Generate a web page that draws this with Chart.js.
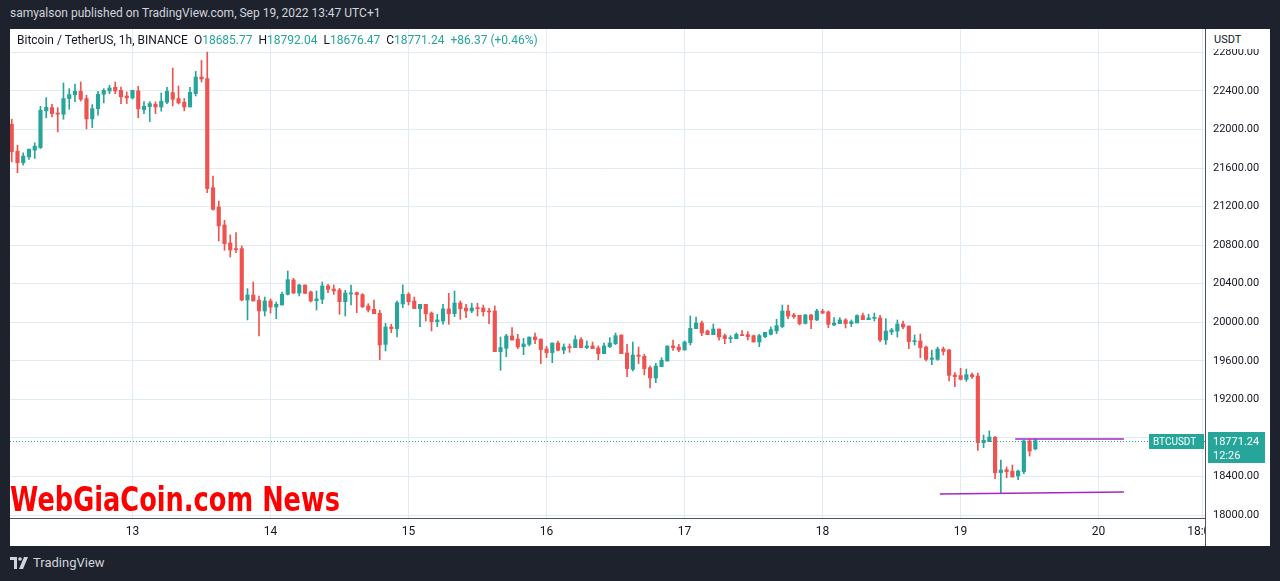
<!DOCTYPE html>
<html>
<head>
<meta charset="utf-8">
<script src="https://cdn.jsdelivr.net/npm/chart.js@4/dist/chart.umd.min.js"></script>
<style>
  html, body { margin: 0; padding: 0; width: 1280px; height: 581px; overflow: hidden; background: #1e222d; font-family: Roboto, "Liberation Sans", sans-serif; }
  .abs { position: absolute; }
  #top { left: 10px; top: 6px; color: #d1d4dc; font-size: 12px; white-space: nowrap; }
  #panel { left: 10px; top: 29px; width: 1260px; height: 517px; background: #fff; }
  #legend { left: 17px; top: 33px; font-size: 12px; color: #131722; white-space: nowrap; }
  #legend .v { color: #26a69a; margin-right: 6px; }
  #usdt { left: 1206px; top: 30px; width: 64px; height: 19px; background: #fff; font-size: 11px; color: #131722; padding-left: 8px; box-sizing: border-box; line-height: 20px; }
  #sep { left: 1205px; top: 29px; width: 1px; height: 517px; background: #50535e; }
  #cover { left: 1206px; top: 519px; width: 64px; height: 27px; background: #fff; }
  #mark { left: 10px; top: 483px; font-family: "DejaVu Sans", sans-serif; font-weight: bold; font-size: 33px; line-height: 33px; color: #ff0000; white-space: nowrap; transform-origin: 0 0; }
  #foot { left: 33px; top: 555px; color: #d1d4dc; font-size: 13px; }
  #logo { left: 10px; top: 557px; }
</style>
</head>
<body>
<div id="top" class="abs">samyalson published on TradingView.com, Sep 19, 2022 13:47 UTC+1</div>
<div id="panel" class="abs"><canvas id="chart"></canvas></div>
<div id="legend" class="abs">Bitcoin / TetherUS, 1h, BINANCE&nbsp;&nbsp;O<span class="v">18685.77</span>H<span class="v">18792.04</span>L<span class="v">18676.47</span>C<span class="v">18771.24</span><span class="v">+86.37 (+0.46%)</span></div>
<div id="mark" class="abs">WebGiaCoin.com News</div>
<div id="usdt" class="abs">USDT</div>
<div id="cover" class="abs"></div>
<div id="sep" class="abs"></div>
<svg id="logo" class="abs" width="20" height="12" viewBox="0 0 20 12">
  <path d="M0 0h7v12H4V3H0z" fill="#d1d4dc"/>
  <circle cx="10" cy="2" r="1.8" fill="#d1d4dc"/>
  <path d="M14 0h4l-5 12H9z" fill="#d1d4dc"/>
</svg>
<div id="foot" class="abs">TradingView</div>
<script>
// BTC/USDT 1h candles, Sep 12 03:00 -> Sep 19 13:00
const opens = [
  22055, 21776, 21655, 21716, 21786, 21813, 22193, 22227, 22172, 22159, 22321, 22362, 22397, 22321, 22110,
  22217, 22366, 22400, 22438, 22407, 22348, 22328, 22400, 22207, 22238, 22262, 22234, 22283, 22383, 22321,
  22283, 22234, 22372, 22545, 22528, 21397, 21196, 21009, 20823, 20764, 20764, 20231, 20283, 20228, 20117,
  20221, 20158, 20179, 20290, 20439, 20304, 20387, 20314, 20224, 20238, 20377, 20345, 20335, 20214, 20294,
  20307, 20287, 20169, 20134, 20093, 19771, 19951, 19934, 20190, 20290, 20221, 20141, 20186, 20096, 20006,
  20013, 20138, 20089, 20200, 20148, 20117, 20152, 20148, 20117, 20117, 19695, 19730, 19858, 19826, 19747,
  19771, 19847, 19826, 19723, 19685, 19785, 19712, 19747, 19737, 19820, 19737, 19754, 19733, 19674, 19747,
  19778, 19868, 19681, 19512, 19660, 19647, 19529, 19422, 19540, 19598, 19754, 19743, 19712, 19788, 19934,
  19992, 19910, 19871, 19930, 19861, 19830, 19830, 19871, 19871, 19861, 19795, 19851, 19875, 19910, 19955,
  20117, 20075, 20072, 19989, 20075, 20024, 20114, 20107, 19972, 19986, 20024, 19986, 19993, 20069, 20027,
  20041, 20045, 19816, 19899, 19909, 19982, 19961, 19799, 19806, 19743, 19615, 19615, 19723, 19712, 19453,
  19446, 19408, 19456, 19442, 18751, 18761, 18806, 18439, 18470, 18456, 18405, 18450, 18768, 18685.77
];
const highs = [
  22107, 21838, 21758, 21796, 21862, 22241, 22331, 22262, 22227, 22483, 22424, 22472, 22493, 22355, 22259,
  22397, 22424, 22459, 22493, 22441, 22390, 22407, 22448, 22290, 22290, 22286, 22379, 22438, 22638, 22452,
  22321, 22438, 22603, 22717, 22803, 21518, 21258, 21058, 20906, 20930, 20792, 20349, 20418, 20273, 20262,
  20242, 20210, 20314, 20532, 20456, 20394, 20387, 20325, 20325, 20418, 20394, 20387, 20352, 20332, 20387,
  20314, 20297, 20193, 20231, 20124, 19989, 19979, 20221, 20387, 20307, 20262, 20186, 20186, 20107, 20083,
  20186, 20300, 20325, 20221, 20186, 20197, 20197, 20179, 20145, 20169, 19847, 19875, 19944, 19875, 19833,
  19847, 19889, 19826, 19750, 19785, 19806, 19775, 19775, 19861, 19840, 19806, 19795, 19754, 19785, 19840,
  19889, 19868, 19771, 19795, 19743, 19667, 19546, 19574, 19633, 19754, 19816, 19771, 19806, 20065, 20055,
  20013, 19920, 19982, 19930, 19878, 19861, 19889, 19913, 19903, 19868, 19875, 19896, 19951, 20031, 20179,
  20179, 20093, 20072, 20082, 20082, 20134, 20134, 20117, 20048, 20048, 20037, 20024, 20076, 20096, 20083,
  20096, 20072, 20037, 19937, 20024, 20013, 19961, 19868, 19878, 19754, 19712, 19743, 19743, 19719, 19477,
  19522, 19515, 19474, 19474, 18830, 18872, 18816, 18571, 18498, 18519, 18467, 18775, 18782, 18792.04
];
const lows = [
  21665, 21551, 21631, 21689, 21700, 21803, 22121, 22131, 21975, 22107, 22210, 22290, 22296, 22007, 22020,
  22148, 22276, 22372, 22372, 22269, 22269, 22317, 22121, 22165, 22082, 22165, 22190, 22269, 22245, 22265,
  22193, 22234, 22348, 22493, 21345, 21162, 20843, 20747, 20677, 20722, 20221, 20024, 20221, 19858, 20065,
  20096, 20037, 20179, 20283, 20297, 20273, 20297, 20210, 20127, 20193, 20307, 20290, 20083, 20065, 20180,
  20100, 20152, 20107, 20089, 19612, 19702, 19892, 19847, 20152, 20179, 20141, 19954, 20013, 19910, 19954,
  19979, 19979, 20058, 20031, 20048, 20100, 20065, 20065, 19986, 19695, 19501, 19643, 19816, 19726, 19664,
  19754, 19778, 19571, 19633, 19581, 19702, 19674, 19688, 19737, 19737, 19726, 19726, 19609, 19674, 19737,
  19768, 19674, 19436, 19495, 19571, 19453, 19318, 19373, 19540, 19598, 19709, 19695, 19712, 19764, 19934,
  19861, 19871, 19871, 19813, 19778, 19788, 19830, 19861, 19816, 19795, 19747, 19840, 19868, 19882, 19944,
  20037, 20041, 19972, 19982, 19934, 20017, 20089, 19944, 19965, 19986, 19941, 19955, 19993, 20027, 20027,
  20013, 19799, 19771, 19871, 19847, 19934, 19726, 19764, 19633, 19598, 19560, 19605, 19660, 19391, 19332,
  19401, 19387, 19418, 18671, 18699, 18761, 18377, 18221, 18387, 18394, 18367, 18429, 18612, 18676.47
];
const closes = [
  21769, 21655, 21724, 21796, 21827, 22200, 22231, 22165, 22159, 22321, 22362, 22397, 22314, 22110, 22217,
  22366, 22407, 22431, 22400, 22338, 22328, 22407, 22214, 22241, 22269, 22234, 22293, 22397, 22314, 22276,
  22234, 22386, 22545, 22524, 21387, 21172, 20999, 20816, 20750, 20754, 20231, 20283, 20221, 20117, 20221,
  20158, 20186, 20290, 20442, 20304, 20387, 20300, 20221, 20242, 20377, 20342, 20325, 20214, 20304, 20304,
  20287, 20162, 20127, 20089, 19764, 19951, 19934, 20203, 20290, 20214, 20141, 20186, 20089, 20006, 20024,
  20138, 20089, 20200, 20141, 20117, 20148, 20141, 20110, 20107, 19695, 19737, 19858, 19816, 19743, 19775,
  19847, 19820, 19716, 19685, 19785, 19709, 19743, 19737, 19820, 19737, 19754, 19726, 19674, 19754, 19785,
  19861, 19674, 19519, 19660, 19647, 19519, 19422, 19546, 19605, 19754, 19737, 19712, 19795, 19937, 19992,
  19889, 19871, 19930, 19847, 19830, 19840, 19875, 19861, 19851, 19795, 19861, 19896, 19923, 19965, 20117,
  20065, 20058, 19986, 20075, 20024, 20117, 20096, 19979, 19992, 20024, 19986, 20006, 20069, 20027, 20045,
  20051, 19816, 19909, 19920, 19982, 19951, 19799, 19806, 19737, 19615, 19629, 19723, 19698, 19449, 19436,
  19408, 19456, 19436, 18751, 18775, 18810, 18439, 18467, 18450, 18394, 18456, 18768, 18664, 18771.24
];

// x axis: hour index from Sep 12 03:00
const dayTicks = [21, 45, 69, 93, 117, 141, 165, 189, 207];
const dayLabels = ['13', '14', '15', '16', '17', '18', '19', '20', '18:00'];
const priceTicks = [18000, 18400, 18800, 19200, 19600, 20000, 20400, 20800, 21200, 21600, 22000, 22400, 22800];

// user drawn lines
const resistanceLine = [{ x: 174.5, y: 18789 }, { x: 193.4, y: 18789 }];
const supportLine = [{ x: 161.4, y: 18218 }, { x: 193.4, y: 18239 }];

const lastPrice = 18771.24;
const lastPriceText = '18771.24';
const countdown = '12:26';
const symbol = 'BTCUSDT';

const UP = '#26a69a';
const DOWN = '#ef5350';
const candleColor = ctx => closes[ctx.dataIndex] >= opens[ctx.dataIndex] ? UP : DOWN;

const wicks = highs.map((h, i) => ({ x: i, y: [lows[i], h] }));
const bodies = opens.map((o, i) => ({ x: i, y: [o, closes[i]] }));

const priceLine = {
  id: 'priceLine',
  afterDatasetsDraw(chart) {
    const { ctx, chartArea } = chart;
    const y = Math.round(chart.scales.y.getPixelForValue(lastPrice)) + 0.5;
    ctx.save();
    ctx.strokeStyle = UP;
    ctx.lineWidth = 1;
    ctx.setLineDash([1, 2]);
    ctx.beginPath();
    ctx.moveTo(chartArea.left, y);
    ctx.lineTo(chartArea.right, y);
    ctx.stroke();
    ctx.restore();
  },
  afterDraw(chart) {
    const { ctx, chartArea } = chart;
    const y = Math.round(chart.scales.y.getPixelForValue(lastPrice));
    ctx.save();
    ctx.fillStyle = UP;
    // price + countdown box on the axis
    ctx.fillRect(chartArea.right + 3, y - 9, 57, 31);
    // symbol box inside the pane
    ctx.fillRect(chartArea.right - 56, y - 7, 55, 15);
    ctx.fillStyle = '#fff';
    ctx.textBaseline = 'middle';
    ctx.font = '11px Roboto, "Liberation Sans", sans-serif';
    ctx.fillText(lastPriceText, chartArea.right + 8, y + 1);
    ctx.fillText(countdown, chartArea.right + 8, y + 15);
    ctx.font = '10px Roboto, "Liberation Sans", sans-serif';
    ctx.fillText(symbol, chartArea.right - 52, y + 1);
    ctx.restore();
  }
};

new Chart(document.getElementById('chart'), {
  type: 'bar',
  data: {
    datasets: [
      {
        type: 'line', data: resistanceLine, borderColor: '#a626c4', borderWidth: 1.5,
        pointRadius: 0, order: 0
      },
      {
        type: 'line', data: supportLine, borderColor: '#a626c4', borderWidth: 1.5,
        pointRadius: 0, order: 0
      },
      {
        data: wicks, backgroundColor: candleColor, barThickness: 1, grouped: false,
        borderWidth: 0, order: 2
      },
      {
        data: bodies, backgroundColor: candleColor, barThickness: 3.5, grouped: false,
        borderWidth: 0, minBarLength: 1, order: 1
      }
    ]
  },
  options: {
    responsive: true,
    maintainAspectRatio: false,
    animation: false,
    layout: { padding: 0 },
    plugins: { legend: { display: false }, tooltip: { enabled: false } },
    scales: {
      x: {
        type: 'linear',
        offset: false,
        min: -0.3,
        max: 207.5,
        afterBuildTicks: s => { s.ticks = dayTicks.map(v => ({ value: v })); },
        afterFit: s => { s.height = 28; s.paddingLeft = 0; s.paddingRight = 0; },
        grid: { color: '#e1ecf2', drawTicks: false, offset: false },
        border: { color: '#50535e' },
        ticks: {
          autoSkip: false,
          maxRotation: 0,
          padding: 7,
          color: '#131722',
          font: { size: 12, family: 'Roboto, "Liberation Sans", sans-serif' },
          callback: v => dayLabels[dayTicks.indexOf(v)]
        }
      },
      y: {
        position: 'right',
        min: 17969,
        max: 23043,
        afterBuildTicks: s => { s.ticks = priceTicks.map(v => ({ value: v })); },
        afterFit: s => { s.width = 65; s.paddingTop = 0; s.paddingBottom = 0; },
        grid: { color: '#e1ecf2', drawTicks: false },
        border: { display: false },
        ticks: {
          padding: 8,
          color: '#131722',
          font: { size: 11, family: 'Roboto, "Liberation Sans", sans-serif' },
          callback: v => v.toFixed(2)
        }
      }
    }
  },
  plugins: [priceLine]
});

// squeeze the watermark to its width in the snapshot
const mark = document.getElementById('mark');
const w = mark.getBoundingClientRect().width;
mark.style.transform = 'scaleX(' + (330 / w) + ')';
</script>
</body>
</html>
